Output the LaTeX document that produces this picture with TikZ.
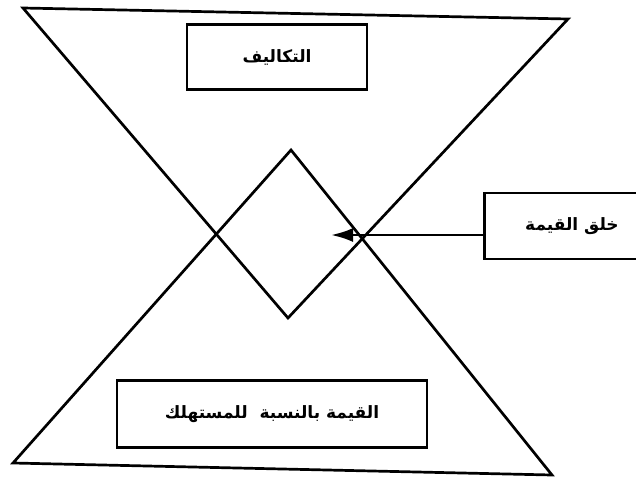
\documentclass[tikz,border=0pt]{standalone}
\usepackage{fontspec}
\newfontfamily\arabicfont[Script=Arabic]{DejaVu Sans}
\TeXXeTstate=1
\usetikzlibrary{arrows.meta, positioning}

\begin{document}
\begin{tikzpicture}[x=1pt, y=-1pt, line width=2.7pt, every node/.style={fill=white, font=\arabicfont\bfseries\fontsize{17}{20}\selectfont}]
  \useasboundingbox (0,0) rectangle (636,479);
  \coordinate (costleft) at (23,8);
  \coordinate (costright) at (568,19);
  \coordinate (costtip) at (288,318);
  \coordinate (valuetip) at (291,150);
  \coordinate (valueleft) at (13,463);
  \coordinate (valueright) at (552,475);
  \coordinate (target) at (331,235);

  \draw (costleft) -- (costright) -- (costtip) -- cycle;
  \draw (valuetip) -- (valueright) -- (valueleft) -- cycle;

  \node (cost) [draw, rectangle, minimum width=180, minimum height=65] at (277,57) {\beginR التكاليف\endR};
  \node (value) [draw, rectangle, minimum width=310, minimum height=67] at (272,414) {\beginR القيمة بالنسبة\ \ للمستهلك\endR};
  \node (create) [draw, rectangle, minimum width=175, minimum height=66] at (572,226) {\beginR خلق القيمة\endR};

  \draw [-{Latex[length=22pt, width=14pt]}] (create.west |- target) -- (target);
\end{tikzpicture}
\end{document}
